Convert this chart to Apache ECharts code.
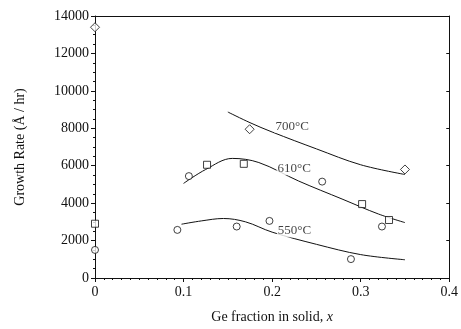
<!DOCTYPE html>
<html>
<head>
<meta charset="utf-8">
<script src="https://cdn.jsdelivr.net/npm/echarts@6/dist/echarts.min.js"></script>
<style>
html, body { margin: 0; padding: 0; background: #fff; }
#chart { width: 461px; height: 329px; }
</style>
</head>
<body>
<div id="chart"></div>
<script>
// measured points, grouped by marker shape
const circles = [[0, 1500], [0.093, 2570], [0.106, 5445], [0.16, 2750], [0.197, 3050], [0.2565, 5150], [0.289, 1010], [0.324, 2750]]
const squares = [[0, 2900], [0.1265, 6050], [0.168, 6100], [0.3016, 3950], [0.332, 3100]]
const diamonds = [[0, 13400], [0.1746, 7950], [0.35, 5800]]

// fitted curves, one per temperature
const curve700 = [[0.15, 8870], [0.175, 8300], [0.2, 7800], [0.25, 6900], [0.3, 6050], [0.35, 5530]]
const curve610 = [[0.1, 5055], [0.125, 5800], [0.155, 6390], [0.185, 6170], [0.23, 5180], [0.28, 4200], [0.32, 3420], [0.35, 2960]]
const curve550 = [[0.0977, 2875], [0.12, 3050], [0.145, 3180], [0.17, 3000], [0.2, 2450], [0.25, 1800], [0.3, 1250], [0.35, 975]]

const curveLabels = [
	{ value: [0.2226, 8105], text: '700°C' },
	{ value: [0.225, 5835], text: '610°C' },
	{ value: [0.2253, 2517], text: '550°C' }
]

const font = 'Liberation Serif'
const ink = '#111'

const chart = echarts.init(document.getElementById('chart'), null, { renderer: 'canvas' })

const baseAxis = {
	axisLine: { show: true, onZero: false, lineStyle: { color: ink, width: 1 } },
	splitLine: { show: false }
}

const curve = (data) => ({
	type: 'line',
	data,
	smooth: 0.35,
	showSymbol: false,
	lineStyle: { color: ink, width: 1 },
	z: 2,
	silent: true
})

const markers = (data, symbol, size) => ({
	type: 'scatter',
	data,
	symbol,
	symbolSize: size,
	itemStyle: { color: '#fff', borderColor: ink, borderWidth: 1 },
	z: 3
})

chart.setOption({
	animation: false,
	backgroundColor: '#fff',
	grid: { left: 95, right: 11, top: 16, bottom: 50, containLabel: false },
	xAxis: [
		{
			...baseAxis,
			type: 'value',
			min: 0,
			max: 0.4,
			interval: 0.1,
			name: '{t|Ge fraction in solid, }{i|x}',
			nameLocation: 'middle',
			nameGap: 32,
			nameTextStyle: {
				rich: {
					t: { fontFamily: font, fontSize: 14, color: ink },
					i: { fontFamily: font, fontSize: 14, color: ink, fontStyle: 'italic' }
				}
			},
			axisTick: { show: true, length: 4, inside: false, lineStyle: { color: ink } },
			minorTick: { show: true, splitNumber: 10, length: 2, lineStyle: { color: ink } },
			axisLabel: {
				fontFamily: font,
				fontSize: 14,
				color: ink,
				margin: 7,
				formatter: (v) => (v === 0 ? '0' : String(+v.toFixed(1)))
			}
		},
		{
			...baseAxis,
			type: 'value',
			position: 'top',
			min: 0,
			max: 0.4,
			interval: 0.1,
			axisTick: { show: false },
			axisLabel: { show: false }
		}
	],
	yAxis: [
		{
			...baseAxis,
			type: 'value',
			min: 0,
			max: 14000,
			interval: 2000,
			name: 'Growth Rate (Å / hr)',
			nameLocation: 'middle',
			nameGap: 68,
			nameTextStyle: { fontFamily: font, fontSize: 14, color: ink },
			axisTick: { show: true, length: 4, lineStyle: { color: ink } },
			minorTick: { show: true, splitNumber: 4, length: 2, lineStyle: { color: ink } },
			axisLabel: { fontFamily: font, fontSize: 14, color: ink, margin: 6, formatter: (v) => String(v) }
		},
		{
			...baseAxis,
			type: 'value',
			position: 'right',
			min: 0,
			max: 14000,
			interval: 2000,
			axisTick: { show: true, inside: true, length: 3, lineStyle: { color: ink } },
			axisLabel: { show: false }
		}
	],
	series: [
		curve(curve700),
		curve(curve610),
		curve(curve550),
		markers(circles, 'circle', 7),
		markers(squares, 'rect', 7),
		markers(diamonds, 'diamond', 9),
		{
			type: 'scatter',
			data: curveLabels.map((d) => ({ value: d.value, name: d.text })),
			symbolSize: 0,
			z: 4,
			label: {
				show: true,
				position: 'inside',
				formatter: (p) => p.name,
				fontFamily: font,
				fontSize: 13,
				color: ink,
				backgroundColor: '#fff',
				padding: [0, 1]
			}
		}
	]
})
</script>
</body>
</html>
